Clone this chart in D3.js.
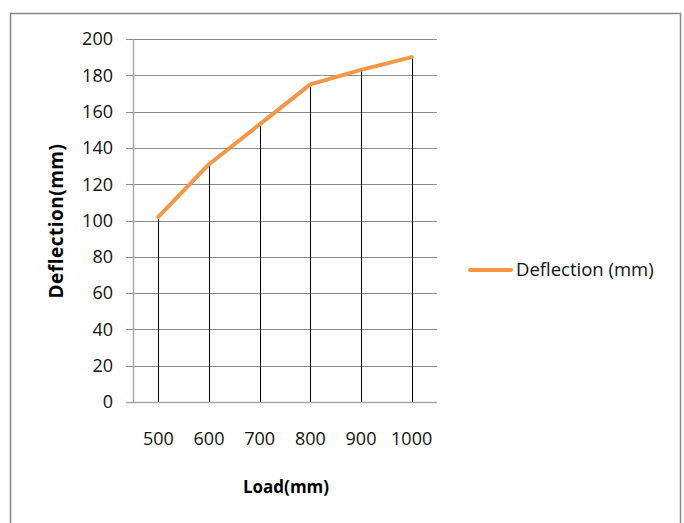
<!DOCTYPE html>
<html><head><meta charset="utf-8">
<script src="https://cdn.jsdelivr.net/npm/d3@7"></script>
<style>body{margin:0;background:#fff}svg{display:block}</style>
</head><body>
<script>
const categories = ["500","600","700","800","900","1000"];
const deflection = [102, 131, 153, 175, 183, 190];
const yTicks = [0,20,40,60,80,100,120,140,160,180,200];
const seriesName = "Deflection (mm)";
const xTitle = "Load(mm)";
const yTitle = "Deflection(mm)";

const W = 684, H = 523;
const font = "'Open Sans', sans-serif";
const svg = d3.select("body").append("svg").attr("width", W).attr("height", H);

svg.append("rect").attr("x",10.5).attr("y",13.5).attr("width",670).attr("height",520)
  .attr("fill","#fff").attr("stroke","#868686").attr("stroke-width",1.5);

const L = 133, R = 437, T = 39, B = 402;
const x = d3.scaleBand().domain(categories).range([L, R]);
const y = d3.scaleLinear().domain([0, 200]).range([B, T]);

// gridlines
svg.append("g").selectAll("line").data(yTicks).join("line")
  .attr("x1", L - 7).attr("x2", R).attr("y1", d => Math.round(y(d)) + 0.5).attr("y2", d => Math.round(y(d)) + 0.5)
  .attr("stroke", d => d === 0 ? "#a6a6a6" : "#8c8c8c").attr("stroke-width", d => d===0?1.5:1);

// y axis line
svg.append("line").attr("x1", L+0.5).attr("x2", L+0.5).attr("y1", T).attr("y2", B)
  .attr("stroke", "#a6a6a6").attr("stroke-width", 1.5);

// y tick labels
svg.append("g").selectAll("text").data(yTicks).join("text")
  .attr("x", 113).attr("y", d => y(d)).attr("dy", "0.35em")
  .attr("text-anchor", "end").attr("font-family", font).attr("font-size", 18).attr("fill", "#111")
  .text(d => d);

// x tick labels
svg.append("g").selectAll("text").data(categories).join("text")
  .attr("x", d => x(d) + x.bandwidth()/2).attr("y", 439).attr("dy", "0.35em")
  .attr("text-anchor", "middle").attr("font-family", font).attr("font-size", 18).attr("fill", "#111")
  .text(d => d);

// drop lines
const cx = (d, i) => x(categories[i]) + x.bandwidth()/2;
svg.append("g").selectAll("line").data(deflection).join("line")
  .attr("x1", (d,i) => Math.round(cx(d,i)) + 0.5).attr("x2", (d,i) => Math.round(cx(d,i)) + 0.5)
  .attr("y1", d => y(d)).attr("y2", B)
  .attr("stroke", "#000").attr("stroke-width", 1);

// series line
const line = d3.line().x((d,i) => cx(d,i)).y(d => y(d));
svg.append("path").datum(deflection).attr("d", line)
  .attr("fill", "none").attr("stroke", "#f79646").attr("stroke-width", 4).attr("stroke-linejoin","round").attr("stroke-linecap","round");

// axis titles
svg.append("text").attr("x", 286).attr("y", 487).attr("dy","0.35em").attr("text-anchor","middle")
  .attr("font-family", font).attr("font-size", 17).attr("font-weight","bold").attr("fill","#000").text(xTitle);
svg.append("text").attr("transform", `translate(56,221) rotate(-90)`).attr("dy","0.35em").attr("text-anchor","middle")
  .attr("font-family", font).attr("font-size", 19).attr("letter-spacing", 0.5).attr("font-weight","bold").attr("fill","#000").text(yTitle);

// legend
svg.append("line").attr("x1", 470).attr("x2", 511).attr("y1", 270).attr("y2", 270)
  .attr("stroke", "#f79646").attr("stroke-width", 4).attr("stroke-linecap","round");
svg.append("text").attr("x", 516).attr("y", 270).attr("dy","0.35em")
  .attr("font-family", font).attr("font-size", 18.5).attr("fill","#111").text(seriesName);
</script>
</body></html>
